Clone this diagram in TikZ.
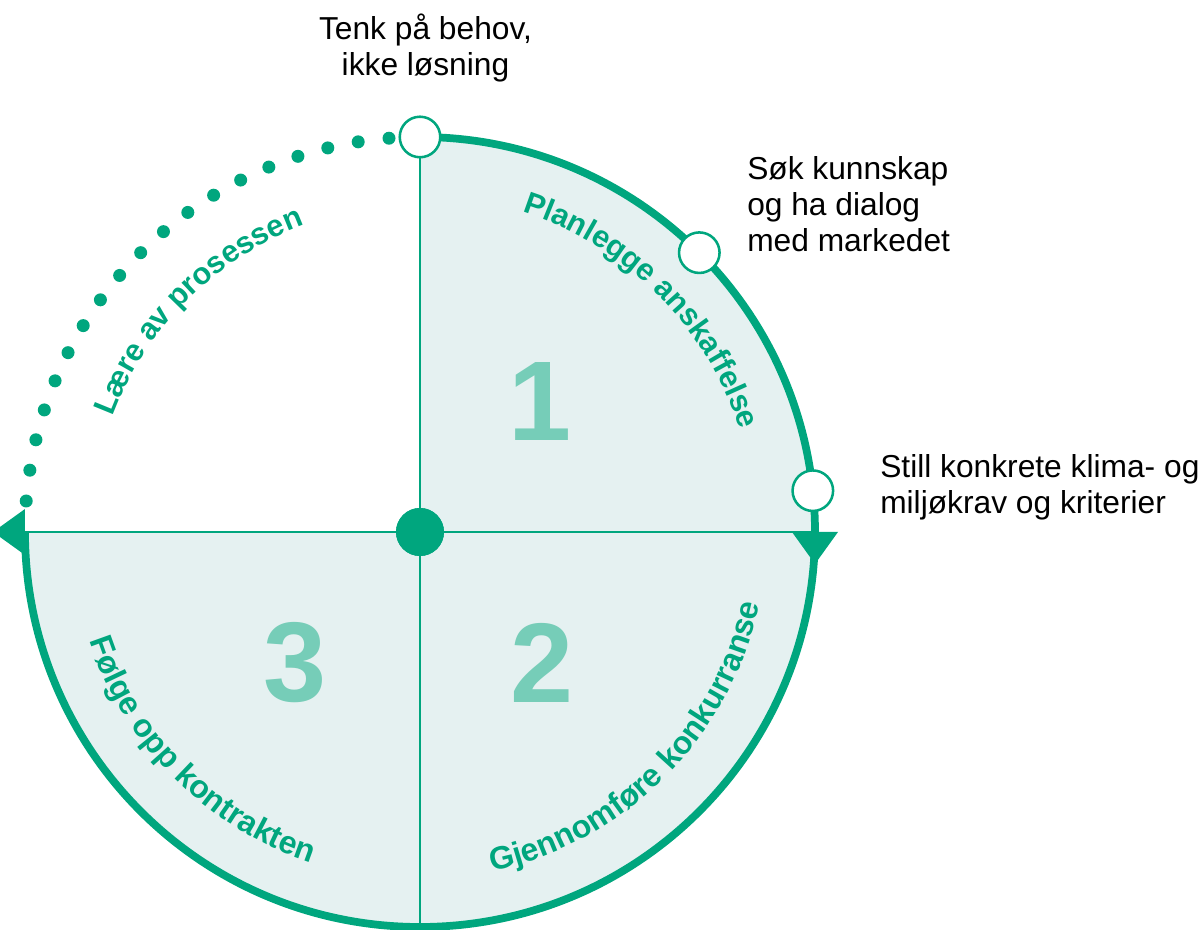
\documentclass[tikz,border=0pt]{standalone}
\usepackage{fontspec}
\setmainfont{Liberation Sans}
\usetikzlibrary{decorations.text}
\definecolor{gr}{HTML}{00A67E}
\definecolor{lt}{HTML}{E5F1F1}
\definecolor{num}{HTML}{76CDB8}
\begin{document}
\begin{tikzpicture}[x=0.75pt,y=0.75pt,
  thinline/.style={draw=gr,line width=1.9pt},
  rim/.style={draw=gr,line width=5.8pt},
  milestone/.style={circle,draw=gr,fill=white,line width=1.9pt,minimum size=30.4pt,inner sep=0pt},
  hub/.style={circle,fill=gr,minimum size=36pt,inner sep=0pt},
  txt/.style={font=\fontsize{23.8pt}{27pt}\selectfont,inner sep=0pt,text=black},
  bignum/.style={font=\fontsize{85pt}{90pt}\selectfont\bfseries,text=num,inner sep=0pt,anchor=center}]
\useasboundingbox (-420,-398) rectangle (784,532);
\def\R{395}
% filled quadrants
\fill[lt] (0,0) -- (90:\R) arc[start angle=90,end angle=-180,radius=\R] -- cycle;
% coordinates
\coordinate (top) at (90:\R);
\coordinate (bot) at (-90:\R);
\coordinate (lef) at (180:\R);
\coordinate (rig) at (0:\R);
\node[hub] (hub) at (0,0) {};
% thin divider lines
\draw[thinline] (lef) -- (hub);
\draw[thinline] (hub) -- (rig);
\draw[thinline] (top) -- (hub);
\draw[thinline] (hub) -- (bot);
\node[hub] at (0,0) {};
% rim
\draw[rim] (top) arc[start angle=90,end angle=-180,radius=\R];
% arrowheads
\fill[gr] ({\R-23},0) -- ({\R+23},0) -- (\R,-32) -- cycle;
\fill[gr] (-\R,23) -- (-\R,-23) -- ({-\R-32},0) -- cycle;
% dotted arc
\foreach \i in {0,...,18} \fill[gr] ({94.5+4.5*\i}:\R) circle[radius=6.5];
% milestones
\node[milestone] (m1) at (90:\R) {};
\node[milestone] (m2) at (45:\R) {};
\node[milestone] (m3) at (6:\R) {};
% curved labels
\path[decorate,decoration={text along path,text align=center,
  text={|\fontsize{23pt}{27pt}\selectfont\bfseries\color{gr}|Planlegge anskaffelse}}]
  (90:336) arc[start angle=90,end angle=0,radius=336];
\path[decorate,decoration={text along path,text align=center,
  text={|\fontsize{23pt}{27pt}\selectfont\bfseries\color{gr}|Lære av prosessen}}]
  (180:328) arc[start angle=180,end angle=90,radius=328];
\path[decorate,decoration={text along path,text align=center,
  text={|\fontsize{24pt}{27pt}\selectfont\bfseries\color{gr}|Gjennomføre konkurranse}}]
  (-90:347) arc[start angle=-90,end angle=0,radius=347];
\path[decorate,decoration={text along path,text align=center,
  text={|\fontsize{24pt}{27pt}\selectfont\bfseries\color{gr}|Følge opp kontrakten}}]
  (-180:348) arc[start angle=-180,end angle=-90,radius=348];
% numbers
\node[bignum] (n1) at (120,130) {1};
\node[bignum] (n2) at (122,-131) {2};
\node[bignum] (n3) at (-125,-131) {3};
% black labels (base anchor = baseline of last line)
\node[txt,anchor=base,align=center] (t1) at (5.5,456) {Tenk på behov,\\ikke løsning};
\node[txt,anchor=base west,align=left] (t2) at (327,280) {Søk kunnskap\\og ha dialog\\med markedet};
\node[txt,anchor=base west,align=left] (t3) at (460,18) {Still konkrete klima- og\\miljøkrav og kriterier};
\end{tikzpicture}
\end{document}
